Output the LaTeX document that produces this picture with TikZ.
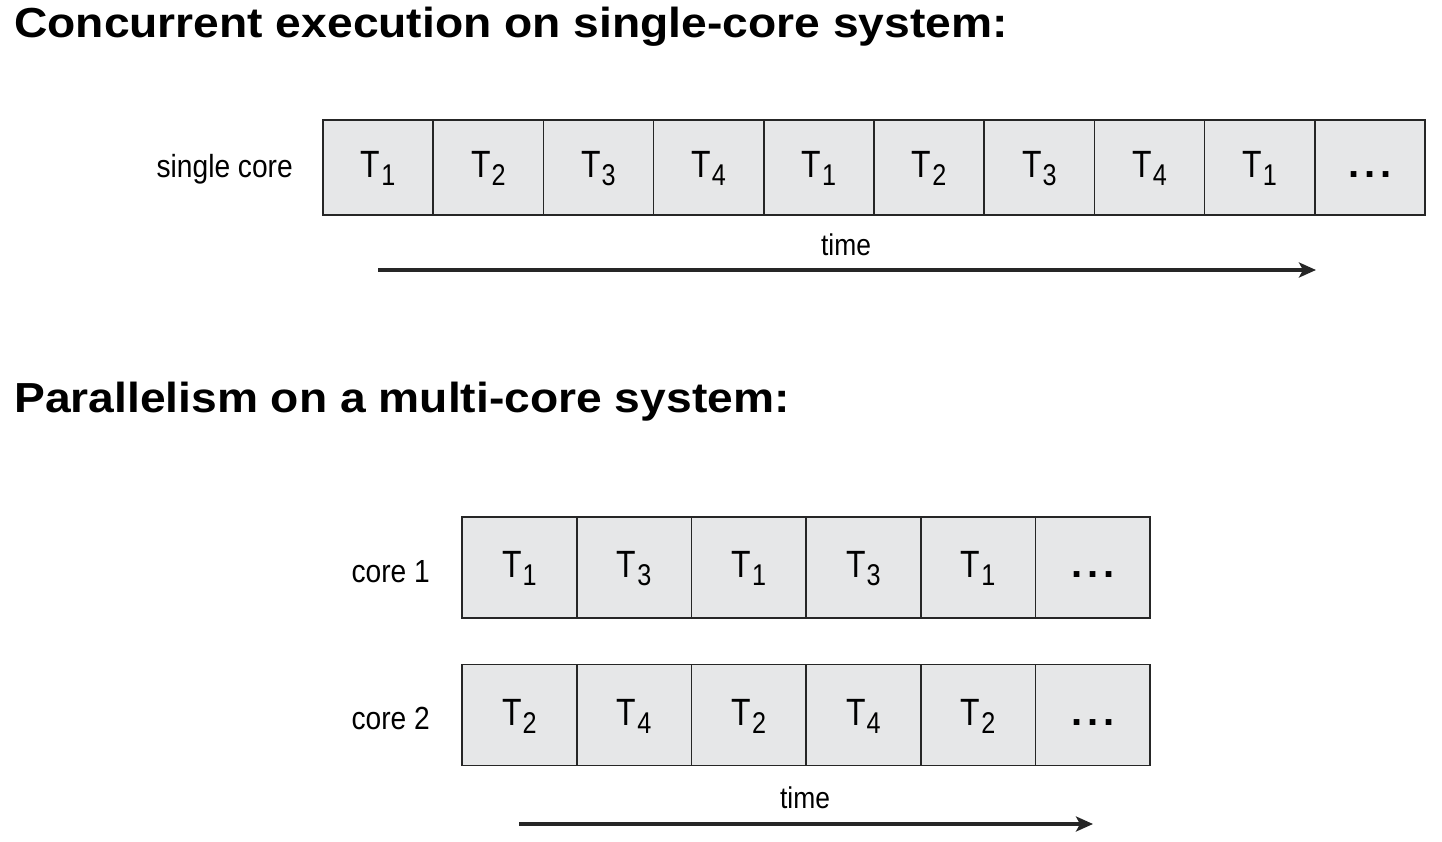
\documentclass[tikz,border=0pt]{standalone}
\usepackage{fontspec}
\setmainfont{Liberation Sans}
\newfontfamily\narrowfont[FakeStretch=0.88]{Liberation Sans}
\newfontfamily\tfont[FakeStretch=0.84]{Liberation Sans}
\newfontfamily\widefont[FakeStretch=1.1]{Liberation Sans}
\usetikzlibrary{arrows.meta}
\definecolor{cellgray}{HTML}{E6E7E8}
\newcommand{\tsub}[1]{\tfont\fontsize{38}{38}\selectfont T\kern1pt\raisebox{-8pt}{\fontsize{30}{30}\selectfont #1}}
\newcommand{\tdots}{\fontsize{40}{40}\selectfont\bfseries .\kern5pt.\kern5pt.}
\tikzset{
  cellA/.style={draw=black!85, line width=1.6pt, fill=cellgray, minimum width=110.2pt, minimum height=95pt, inner sep=0pt, text height=28pt, text depth=8pt},
  cellB/.style={draw=black!85, line width=1.6pt, fill=cellgray, minimum width=114.7pt, minimum height=101pt, inner sep=0pt, text height=28pt, text depth=8pt},
  title/.style={anchor=base west, inner sep=0pt, font=\widefont\fontsize{42}{42}\selectfont\bfseries},
  lab/.style={anchor=base east, inner sep=0pt, font=\narrowfont\fontsize{32}{32}\selectfont},
  timelab/.style={anchor=base, inner sep=0pt, font=\narrowfont\fontsize{30}{30}\selectfont},
  timearrow/.style={line width=3.2pt, black!85, -{Stealth[length=17pt, width=15pt, inset=4pt]}}
}
\begin{document}
\begin{tikzpicture}[x=1pt, y=-1pt]
\useasboundingbox (0,0) rectangle (1442,842);
\node[title] (t1) at (14,38) {Concurrent execution on single-core system:};
\node[title] (t2) at (14,412) {Parallelism on a multi-core system:};
% single core row
\foreach \lbl [count=\i] in {\tsub{1},\tsub{2},\tsub{3},\tsub{4},\tsub{1},\tsub{2},\tsub{3},\tsub{4},\tsub{1},\tdots}{
  \node[cellA] (s\i) at ({323+110.2*(\i-0.5)},167.5) {\lbl};
}
\node[lab] (sl) at (293,178) {single core};
\coordinate (sa) at (378,270);
\coordinate (sb) at (1316,270);
\draw[timearrow] (sa) -- (sb);
\node[timelab] (st) at (846,256) {time};
% core 1
\foreach \lbl [count=\i] in {\tsub{1},\tsub{3},\tsub{1},\tsub{3},\tsub{1},\tdots}{
  \node[cellB] (a\i) at ({462+114.7*(\i-0.5)},567.5) {\lbl};
}
\node[lab] (al) at (430,582) {core 1};
% core 2
\foreach \lbl [count=\i] in {\tsub{2},\tsub{4},\tsub{2},\tsub{4},\tsub{2},\tdots}{
  \node[cellB] (b\i) at ({462+114.7*(\i-0.5)},715) {\lbl};
}
\node[lab] (bl) at (430,729) {core 2};
\coordinate (ba) at (519,824);
\coordinate (bb) at (1093,824);
\draw[timearrow] (ba) -- (bb);
\node[timelab] (bt) at (805,808) {time};
\end{tikzpicture}
\end{document}
